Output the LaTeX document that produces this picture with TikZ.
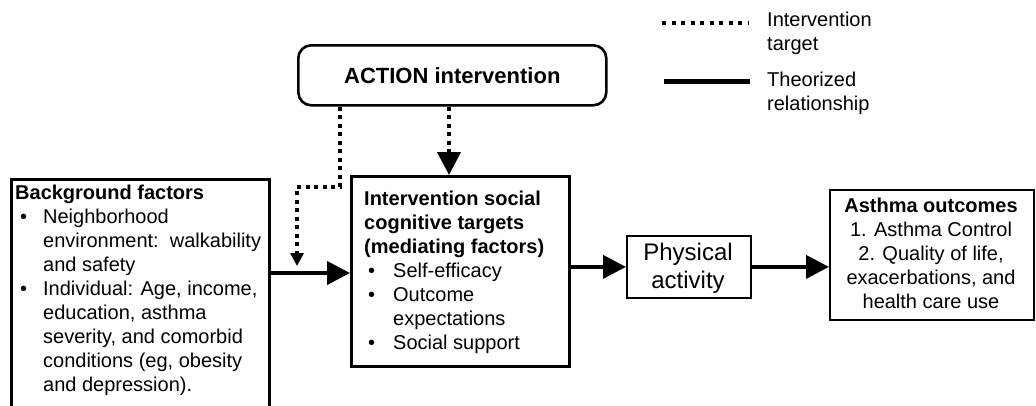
\documentclass[tikz,border=0pt]{standalone}
\usepackage{fontspec}
\setmainfont{Liberation Sans}
\usetikzlibrary{arrows.meta}
\tikzset{
  thickbox/.style={draw, line width=2.6pt, inner sep=0pt},
  thinbox/.style={draw, line width=1.8pt, inner sep=0pt},
  txt/.style={inner sep=0pt, font=\fontsize{20}{24}\selectfont},
  rel/.style={line width=4pt, -{Triangle[length=23pt,width=23pt]}},
  tgt/.style={line width=4pt, dash pattern=on 4pt off 4.5pt, -{Triangle[length=23pt,width=23pt]}},
  tgtsmall/.style={line width=4pt, dash pattern=on 4pt off 4.5pt, -{Triangle[length=13pt,width=13pt]}},
}
\newcommand{\bul}[2]{\hspace{#1}\makebox[#2][l]{\textbullet}}
\begin{document}
\begin{tikzpicture}[x=1pt,y=-1pt]
\useasboundingbox (0,0) rectangle (1036,405);
\clip (0,0) rectangle (1036,405);

% boxes
\node[thickbox, rounded corners=13pt, minimum width=308pt, minimum height=60pt, anchor=north west,
      font=\fontsize{22}{26}\selectfont\bfseries] (action) at (297,44) {ACTION intervention};
\node[thickbox, minimum width=258pt, minimum height=260pt, anchor=north west] (bg) at (10,178) {};
\node[thickbox, minimum width=218pt, minimum height=190pt, anchor=north west] (inter) at (350,175) {};
\node[thinbox, minimum width=124pt, minimum height=62pt, anchor=north west] (phys) at (626,235) {};
\node[thinbox, minimum width=204pt, minimum height=130pt, anchor=north west] (asth) at (829,189) {};

% texts
\node[txt, anchor=north west] (bgtxt) at (15,182.2) {%
\begin{tabular}{@{}l@{}l@{}}
\multicolumn{2}{@{}l@{}}{\bfseries Background factors}\\
\bul{5pt}{23pt} & Neighborhood\\
 & environment:\ \ walkability\\
 & and safety\\
\bul{5pt}{23pt} & Individual: Age, income,\\
 & education, asthma\\
 & severity, and comorbid\\
 & conditions (eg, obesity\\
 & and depression).
\end{tabular}};

\node[txt, anchor=north west] (intertxt) at (364,188.2) {%
\begin{tabular}{@{}l@{}l@{}}
\multicolumn{2}{@{}l@{}}{\bfseries Intervention social}\\
\multicolumn{2}{@{}l@{}}{\bfseries cognitive targets}\\
\multicolumn{2}{@{}l@{}}{\bfseries (mediating factors)}\\
\bul{4pt}{25pt} & Self-efficacy\\
\bul{4pt}{25pt} & Outcome\\
 & expectations\\
\bul{4pt}{25pt} & Social support
\end{tabular}};

\node[txt, anchor=north, font=\fontsize{24}{28}\selectfont] (phystxt) at (688,240.4) {%
\begin{tabular}{@{}c@{}}Physical\\activity\end{tabular}};

\node[txt, anchor=north] (asthtxt) at (931,195.2) {%
\begin{tabular}{@{}c@{}}
{\bfseries Asthma outcomes}\\
1. Asthma Control\\
2. Quality of life,\\
exacerbations, and\\
health care use
\end{tabular}};

% legend
\coordinate (ld1) at (662,23);
\coordinate (ld2) at (748,23);
\coordinate (ls1) at (664,81);
\coordinate (ls2) at (750,81);
\draw[line width=4pt, dash pattern=on 4pt off 5.5pt] (ld1) -- (ld2);
\draw[line width=5pt] (ls1) -- (ls2);
\node[txt, anchor=north west] (legd) at (767,9.2) {%
\begin{tabular}{@{}l@{}}Intervention\\target\end{tabular}};
\node[txt, anchor=north west] (legs) at (767,69.2) {%
\begin{tabular}{@{}l@{}}Theorized\\relationship\end{tabular}};

% connectors
\coordinate (c1) at (340,187);
\coordinate (c2) at (297,187);
\coordinate (c3) at (297,266);
\draw[tgtsmall] (action.south -| c1) -- (c1) -- (c2) -- (c3);
\coordinate (ax) at (449,0);
\draw[tgt] (action.south -| ax) -- (inter.north -| ax);
\coordinate (ay) at (0,273);
\draw[rel] (bg.east |- ay) -- (inter.west |- ay);
\draw[rel] (inter.east |- phys.east) -- (phys.west);
\draw[rel] (phys.east) -- (phys.east -| asth.west);
\end{tikzpicture}
\end{document}
